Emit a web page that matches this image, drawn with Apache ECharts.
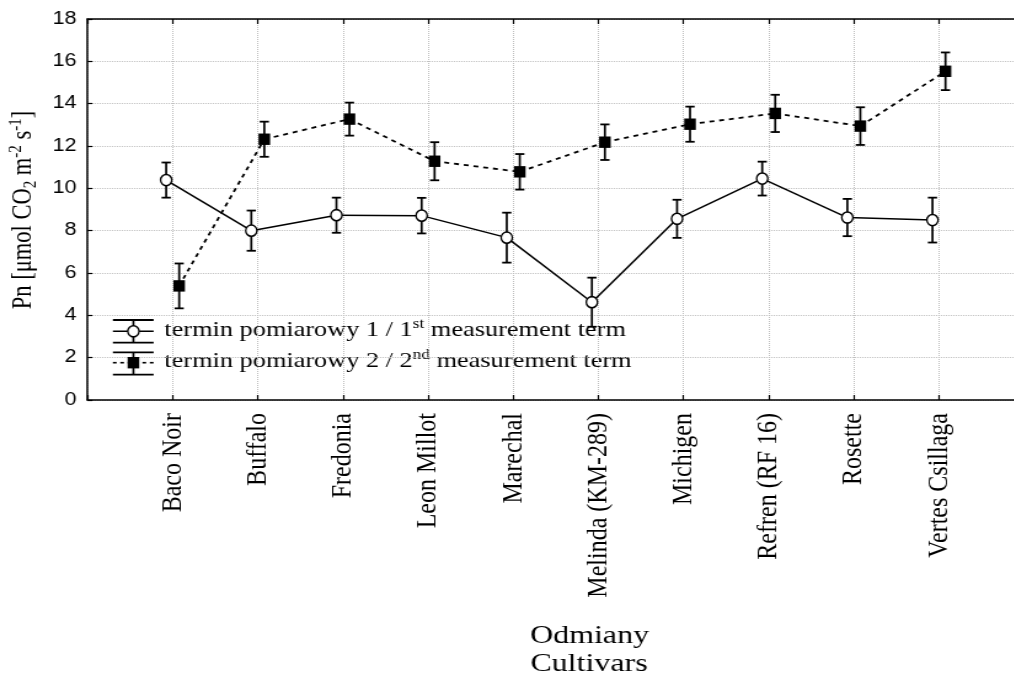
<!DOCTYPE html>
<html>
<head>
<meta charset="utf-8">
<script src="https://cdn.jsdelivr.net/npm/echarts@6/dist/echarts.min.js"></script>
<style>
  html, body { margin: 0; padding: 0; width: 1014px; height: 679px; overflow: hidden; background: #fff; }
  /* the figure is drawn narrow and widened by a horizontal stretch */
  #chart { width: 846px; height: 679px; transform: scaleX(1.23); transform-origin: 0 0; }
</style>
</head>
<body>
<div id="chart"></div>
<script>
// Cultivars on the horizontal axis
const categories = ['Baco Noir', 'Buffalo', 'Fredonia', 'Leon Millot', 'Marechal',
  'Melinda (KM-289)', 'Michigen', 'Refren (RF 16)', 'Rosette', 'Vertes Csillaga'];

// Pn, 1st measurement term: means and error half-widths
const term1 = [10.39, 8.00, 8.73, 8.71, 7.67, 4.62, 8.56, 10.46, 8.62, 8.50];
const err1  = [0.83, 0.95, 0.83, 0.84, 1.18, 1.16, 0.90, 0.80, 0.88, 1.06];

// Pn, 2nd measurement term: means and error half-widths
const term2 = [5.39, 12.32, 13.27, 11.28, 10.78, 12.18, 13.03, 13.54, 12.94, 15.53];
const err2  = [1.06, 0.83, 0.78, 0.90, 0.84, 0.84, 0.83, 0.88, 0.89, 0.89];

// value-axis ticks
const yTicks = { min: 0, max: 18, step: 2 };

const SX = 1.23;                 // horizontal stretch applied in CSS
const X = v => v / SX;           // screen x -> drawing x
const OFFSET = X(6.5);           // dodge between the two terms
const SERIF = 'Liberation Serif';
const SANS = 'Liberation Sans';

const chart = echarts.init(document.getElementById('chart'));

function circleEl(x, y) {
  return { type: 'circle', x: x, y: y, scaleX: 1 / SX,
    shape: { cx: 0, cy: 0, r: 5.6 },
    style: { fill: '#fff', stroke: '#000', lineWidth: 1.6 }, z2: 10 };
}
function squareEl(x, y) {
  const w = X(11.6), h = 11.4;
  return { type: 'rect', shape: { x: x - w / 2, y: y - h / 2, width: w, height: h },
    style: { fill: '#000' }, z2: 10 };
}
function errorEls(x, yHi, yLo) {
  const cap = X(4.6);
  const st = { stroke: '#000', lineWidth: 1.8 };
  return [
    { type: 'line', shape: { x1: x, y1: yHi, x2: x, y2: yLo }, style: Object.assign({}, st, { lineWidth: X(2.1) }) },
    { type: 'line', shape: { x1: x - cap, y1: yHi, x2: x + cap, y2: yHi }, style: st },
    { type: 'line', shape: { x1: x - cap, y1: yLo, x2: x + cap, y2: yLo }, style: st }
  ];
}

function makeSeries(name, vals, errs, kind) {
  const dx = kind === 'circle' ? -OFFSET : OFFSET;
  return {
    name: name,
    type: 'custom',
    data: vals.map((v, i) => [i + 1, v, errs[i]]),
    encode: { x: 0, y: 1 },
    clip: false,
    z: kind === 'circle' ? 3 : 4,
    renderItem: function (params, api) {
      const i = params.dataIndex;
      const xv = api.value(0), v = api.value(1), e = api.value(2);
      const c = api.coord([xv, v]);
      const hi = api.coord([xv, v + e]);
      const lo = api.coord([xv, v - e]);
      const px = c[0] + dx;
      const children = [];
      if (i < vals.length - 1) {
        const n = api.coord([i + 2, vals[i + 1]]);
        children.push({
          type: 'line', z2: 1,
          shape: { x1: px, y1: c[1], x2: n[0] + dx, y2: n[1] },
          style: kind === 'circle'
            ? { stroke: '#000', lineWidth: 1.5 }
            : { stroke: '#000', lineWidth: 1.8, lineDash: [4, 4] }
        });
      }
      errorEls(px, hi[1], lo[1]).forEach(el => children.push(el));
      children.push(kind === 'circle' ? circleEl(px, c[1]) : squareEl(px, c[1]));
      return { type: 'group', children: children };
    }
  };
}

// legend entries with error-bar glyphs
function legendRow(yc, yTop, yBot, kind, rich) {
  const l0 = X(112.9), l1 = X(153.6), lc = X(133.4);
  const st = { stroke: '#000', lineWidth: 1.8 };
  const els = [
    { type: 'line', shape: { x1: l0, y1: yTop, x2: l1, y2: yTop }, style: st },
    { type: 'line', shape: { x1: l0, y1: yBot, x2: l1, y2: yBot }, style: st },
    { type: 'line', shape: { x1: lc, y1: yTop, x2: lc, y2: yBot }, style: Object.assign({}, st, { lineWidth: X(2.1) }) },
    { type: 'line', shape: { x1: l0, y1: yc, x2: l1, y2: yc },
      style: kind === 'circle' ? { stroke: '#000', lineWidth: 1.5 } : { stroke: '#000', lineWidth: 1.6, lineDash: [3, 3] } }
  ];
  els.push(kind === 'circle' ? circleEl(lc, yc) : squareEl(lc, yc));
  els.push({
    type: 'text', x: X(164.3), y: yc - 1,
    style: {
      text: rich, align: 'left', verticalAlign: 'middle', fill: '#000',
      rich: {
        a: { fontFamily: SERIF, fontSize: 21.4, lineHeight: 26, fill: '#000' },
        s: { fontFamily: SERIF, fontSize: 14, verticalAlign: 'top', fill: '#000' }
      }
    }
  });
  return els;
}

const gridLeft = X(87.5);
const plotW = X(11 * 85.15);

chart.setOption({
  backgroundColor: '#fff',
  animation: false,
  grid: { left: gridLeft, top: 19, bottom: 279, right: 846 - gridLeft - plotW },
  xAxis: [
    {
      type: 'value', position: 'bottom', min: 0, max: 11, interval: 1,
      axisLine: { show: true, onZero: false, lineStyle: { color: '#000', width: 1.5 } },
      axisTick: { show: true, inside: true, length: 5, lineStyle: { color: '#000', width: 1.2 } },
      splitLine: { show: true, lineStyle: { color: '#bdbdbd', type: 'dotted', width: 1 } },
      axisLabel: {
        rotate: 90, margin: 13, color: '#000', fontFamily: SERIF, fontSize: 24,
        formatter: v => categories[v - 1] || ''
      }
    },
    {
      type: 'value', position: 'top', min: 0, max: 11, interval: 1,
      axisLine: { show: true, onZero: false, lineStyle: { color: '#000', width: 1.5 } },
      axisTick: { show: true, inside: true, length: 5, lineStyle: { color: '#000', width: 1.2 } },
      splitLine: { show: false },
      axisLabel: { show: false }
    }
  ],
  yAxis: {
    type: 'value', min: yTicks.min, max: yTicks.max, interval: yTicks.step,
    axisLine: { show: true, lineStyle: { color: '#000', width: 1.5 } },
    axisTick: { show: true, inside: true, length: 4, lineStyle: { color: '#000', width: 1.2 } },
    splitLine: { show: true, lineStyle: { color: '#bdbdbd', type: 'dotted', width: 1 } },
    axisLabel: { color: '#000', fontFamily: SANS, fontSize: 17.5, margin: 9 }
  },
  series: [
    makeSeries('termin pomiarowy 1 / 1st measurement term', term1, err1, 'circle'),
    makeSeries('termin pomiarowy 2 / 2nd measurement term', term2, err2, 'square')
  ],
  graphic: [
    {
      type: 'group',
      children: []
        .concat(legendRow(331.3, 320, 342.7, 'circle', '{a|termin pomiarowy 1 / 1}{s|st}{a| measurement term}'))
        .concat(legendRow(362.7, 352.3, 374.7, 'square', '{a|termin pomiarowy 2 / 2}{s|nd}{a| measurement term}'))
    },
    {
      type: 'text', x: X(23.5), y: 210, rotation: Math.PI / 2,
      style: {
        text: '{a|Pn [μmol CO}{b|2}{a| m}{c|-2}{a| s}{c|-1}{a|]}',
        align: 'center', verticalAlign: 'middle', fill: '#000',
        rich: {
          a: { fontFamily: SERIF, fontSize: 22.5, lineHeight: 27, fill: '#000' },
          b: { fontFamily: SERIF, fontSize: 15, verticalAlign: 'bottom', fill: '#000' },
          c: { fontFamily: SERIF, fontSize: 15, verticalAlign: 'top', fill: '#000' }
        }
      }
    },
    {
      type: 'text', x: X(589.5), y: 636,
      style: { text: 'Odmiany', align: 'center', verticalAlign: 'middle', fill: '#000', fontFamily: SERIF, fontSize: 26 }
    },
    {
      type: 'text', x: X(589), y: 664,
      style: { text: 'Cultivars', align: 'center', verticalAlign: 'middle', fill: '#000', fontFamily: SERIF, fontSize: 26 }
    }
  ]
});
</script>
</body>
</html>
